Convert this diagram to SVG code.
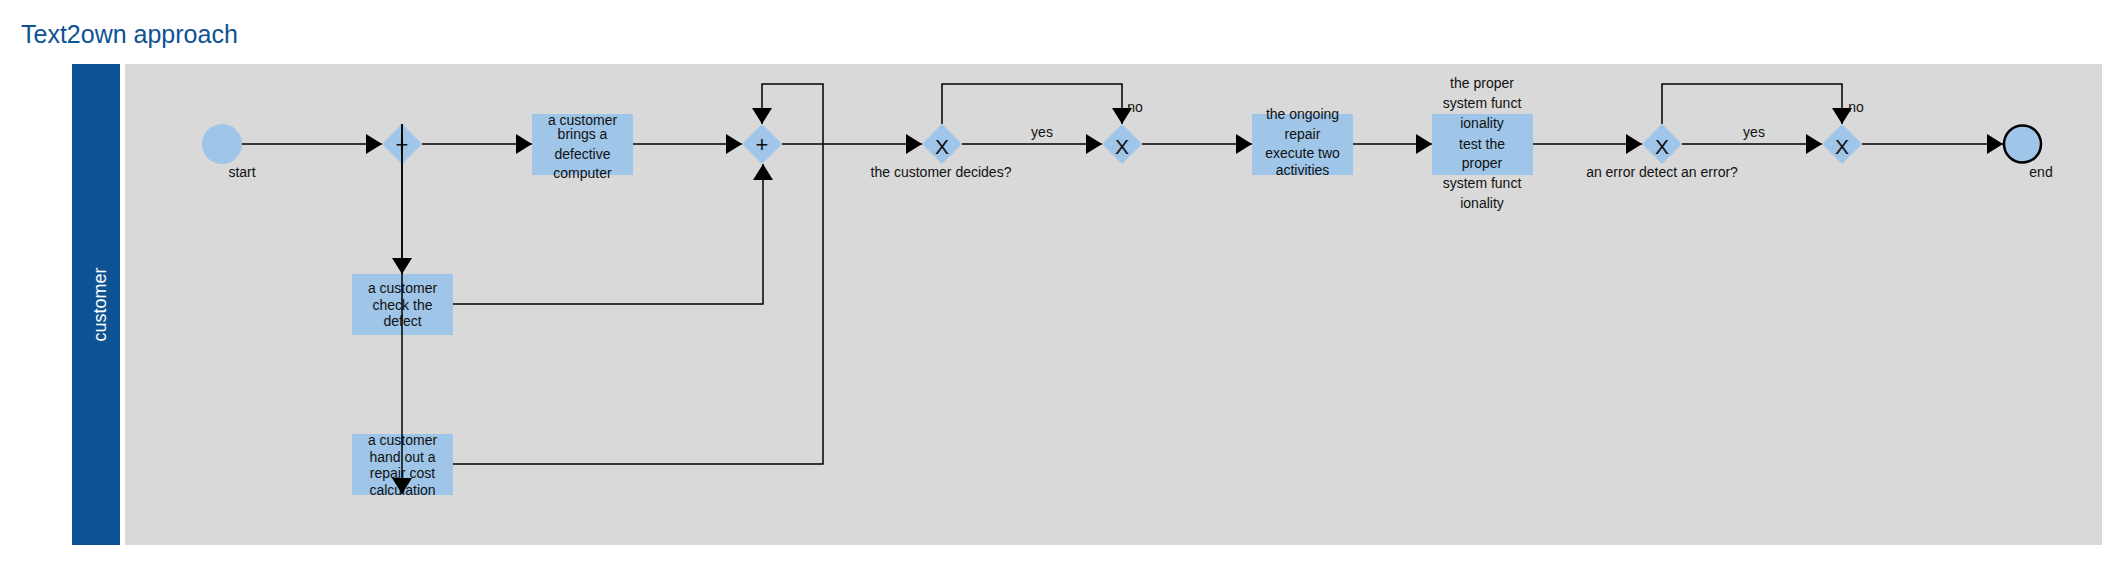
<svg xmlns="http://www.w3.org/2000/svg" width="2119" height="586" viewBox="0 0 2119 586">
<style>
text{font-family:"Liberation Sans",Arial,sans-serif;fill:#111}
.t{font-size:14px;text-anchor:middle}
.title{font-size:25px;fill:#0d5294}
.lane{font-size:18px;fill:#fff;text-anchor:middle}
.task{fill:#9fc5e8}
.gw{fill:#9fc5e8}
.gx{font-size:21px;text-anchor:middle}
.gp{font-size:22px;text-anchor:middle}
.c{fill:none;stroke:#000;stroke-width:1.5}
.c.a{marker-end:url(#arr)}
</style>
<defs>
<marker id="arr" markerUnits="userSpaceOnUse" markerWidth="16" markerHeight="20" refX="16" refY="10" orient="auto">
<path d="M0,0 L16,10 L0,20 Z" fill="#000"/>
</marker>
</defs>
<rect width="2119" height="586" fill="#fff"/>
<text class="title" x="21" y="43">Text2own approach</text>
<g id="pool">
<rect x="72" y="64" width="48" height="481" fill="#0d5294"/>
<rect x="125" y="64" width="1977" height="481" fill="#d9d9d9"/>
<text class="lane" transform="translate(106,304.5) rotate(-90)">customer</text>
</g>
<g id="start">
<circle cx="222" cy="144" r="20" fill="#9fc5e8"/>
<text class="t" x="242" y="177">start</text>
</g>
<g id="gw1">
<path class="gw" d="M402,124 L422,144 L402,164 L382,144 Z"/>
<text class="gp" x="402" y="152">+</text>
</g>
<g id="box1">
<rect class="task" x="532" y="114" width="101" height="61"/>
<text class="t" x="582.5" y="125">a customer</text>
<text class="t" x="582.5" y="139">brings a</text>
<text class="t" x="582.5" y="159">defective</text>
<text class="t" x="582.5" y="178">computer</text>
</g>
<g id="check">
<rect class="task" x="352" y="274" width="101" height="61"/>
<text class="t" x="402.5" y="293">a customer</text>
<text class="t" x="402.5" y="309.5">check the</text>
<text class="t" x="402.5" y="326">defect</text>
</g>
<g id="handout">
<rect class="task" x="352" y="434" width="101" height="61"/>
<text class="t" x="402.5" y="445">a customer</text>
<text class="t" x="402.5" y="462">hand out a</text>
<text class="t" x="402.5" y="478">repair cost</text>
<text class="t" x="402.5" y="495">calculation</text>
</g>
<g id="gw2">
<path class="gw" d="M762,124 L782,144 L762,164 L742,144 Z"/>
<text class="gp" x="762" y="152">+</text>
</g>
<g id="gw3">
<path class="gw" d="M942,124 L962,144 L942,164 L922,144 Z"/>
<text class="gx" x="942" y="154">X</text>
<text class="t" x="941" y="177">the customer decides?</text>
</g>
<g id="gw4">
<path class="gw" d="M1122,124 L1142,144 L1122,164 L1102,144 Z"/>
<text class="gx" x="1122" y="154">X</text>
</g>
<g id="repair">
<rect class="task" x="1252" y="114" width="101" height="61"/>
<text class="t" x="1302.5" y="119">the ongoing</text>
<text class="t" x="1302.5" y="139">repair</text>
<text class="t" x="1302.5" y="158">execute two</text>
<text class="t" x="1302.5" y="175">activities</text>
</g>
<g id="test">
<rect class="task" x="1432" y="114" width="101" height="61"/>
<text class="t" x="1482" y="88">the proper</text>
<text class="t" x="1482" y="108">system funct</text>
<text class="t" x="1482" y="128">ionality</text>
<text class="t" x="1482" y="149">test the</text>
<text class="t" x="1482" y="168">proper</text>
<text class="t" x="1482" y="188">system funct</text>
<text class="t" x="1482" y="208">ionality</text>
</g>
<g id="gw5">
<path class="gw" d="M1662,124 L1682,144 L1662,164 L1642,144 Z"/>
<text class="gx" x="1662" y="154">X</text>
<text class="t" x="1662" y="177">an error detect an error?</text>
</g>
<g id="gw6">
<path class="gw" d="M1842,124 L1862,144 L1842,164 L1822,144 Z"/>
<text class="gx" x="1842" y="154">X</text>
</g>
<g id="end">
<circle cx="2022.5" cy="144" r="18.5" fill="#9fc5e8" stroke="#000" stroke-width="2.5"/>
<text class="t" x="2041" y="177">end</text>
</g>
<g id="connectors">
<path class="c a" d="M242,144 H382"/>
<path class="c a" d="M422,144 H532"/>
<path class="c a" d="M402,124 V274"/>
<path class="c a" d="M402,124 V494"/>
<path class="c a" d="M633,144 H742"/>
<path class="c a" d="M453,304 H763 V164"/>
<path class="c a" d="M453,464 H823 V84 H762 V124"/>
<path class="c a" d="M782,144 H922"/>
<path class="c a" d="M962,144 H1102"/>
<text class="t" x="1042" y="137">yes</text>
<path class="c a" d="M942,124 V84 H1122 V124"/>
<text class="t" x="1135" y="112">no</text>
<path class="c a" d="M1142,144 H1252"/>
<path class="c a" d="M1353,144 H1432"/>
<path class="c a" d="M1533,144 H1642"/>
<path class="c a" d="M1682,144 H1822"/>
<text class="t" x="1754" y="137">yes</text>
<path class="c a" d="M1662,124 V84 H1842 V124"/>
<text class="t" x="1856" y="112">no</text>
<path class="c a" d="M1862,144 H2003"/>
</g>
</svg>
